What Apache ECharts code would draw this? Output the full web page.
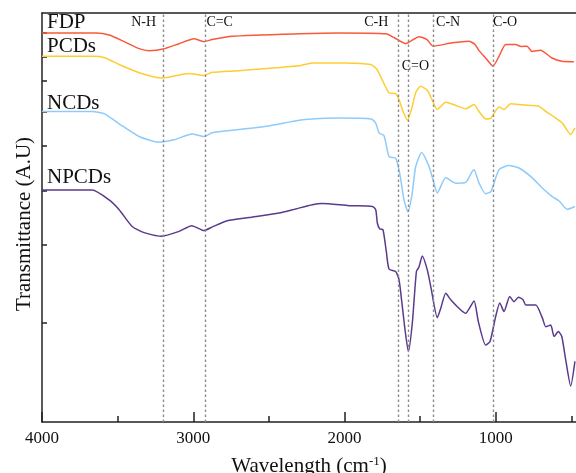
<!DOCTYPE html>
<html>
<head>
<meta charset="utf-8">
<script src="https://cdn.jsdelivr.net/npm/echarts@6/dist/echarts.min.js"></script>
<style>
html, body { margin: 0; padding: 0; background: #fff; }
#chart { width: 576px; height: 473px; }
</style>
</head>
<body>
<div id="chart"></div>
<script>
// FTIR spectra, transmittance in arbitrary units (0 = bottom of frame, 100 = top)
const seriesNames = ['FDP', 'PCDs', 'NCDs', 'NPCDs'];
const seriesColors = ['#f8593a', '#ffcc33', '#8ecbfb', '#5a3a8c'];

const fdpWave = [4000, 3642, 3556, 3457, 3358, 3292, 3199, 3094, 2995, 2929, 2876, 2744, 2301, 2036, 1726, 1673, 1596, 1508, 1455, 1415, 1290, 1178, 1138, 1111, 1065, 1019, 979, 935, 869, 833, 794, 761, 704, 629, 563, 484];
const fdpT = [95.1, 95.1, 94.6, 93.0, 91.3, 90.8, 91.2, 92.5, 93.7, 93.0, 93.5, 94.3, 94.9, 95.1, 94.9, 94.0, 92.5, 94.2, 93.5, 91.9, 92.7, 93.1, 92.3, 90.8, 88.9, 87.0, 89.4, 92.3, 92.3, 91.8, 91.9, 90.6, 90.9, 89.0, 88.2, 88.1];

const pcdWave = [4000, 3669, 3590, 3490, 3358, 3206, 3028, 2929, 2876, 2697, 2301, 2215, 1992, 1827, 1785, 1752, 1706, 1662, 1640, 1613, 1584, 1554, 1530, 1497, 1453, 1422, 1387, 1331, 1265, 1199, 1144, 1111, 1065, 1032, 979, 946, 902, 847, 761, 715, 668, 615, 563, 505, 477];
const pcdT = [89.4, 89.4, 89.1, 87.4, 85.4, 84.1, 85.2, 84.7, 85.5, 85.9, 87.1, 87.8, 87.8, 87.4, 86.2, 83.7, 80.5, 80.3, 78.8, 75.9, 73.8, 76.9, 80.5, 82.1, 81.1, 78.8, 76.4, 78.2, 77.4, 76.6, 77.6, 75.9, 74.1, 74.3, 77.0, 76.4, 77.8, 77.6, 77.4, 77.2, 75.9, 74.6, 73.2, 70.3, 71.9];

const ncdWave = [4000, 3669, 3590, 3490, 3358, 3226, 3127, 3008, 2929, 2876, 2697, 2519, 2301, 2215, 2036, 1824, 1794, 1772, 1739, 1706, 1662, 1634, 1607, 1581, 1554, 1530, 1490, 1442, 1415, 1387, 1331, 1265, 1199, 1157, 1144, 1111, 1067, 1032, 979, 913, 847, 759, 693, 627, 583, 528, 477];
const ncdT = [75.9, 75.9, 75.4, 72.9, 69.8, 68.4, 69.0, 70.4, 69.8, 70.7, 71.5, 72.3, 73.8, 74.1, 74.3, 74.1, 73.1, 70.7, 70.0, 64.9, 64.5, 60.5, 54.3, 51.4, 55.6, 62.4, 65.9, 62.5, 59.2, 56.0, 59.7, 58.4, 58.6, 61.2, 61.7, 58.4, 55.8, 56.4, 61.7, 62.7, 62.1, 59.7, 57.2, 55.1, 54.1, 52.0, 52.7];

const npcdWave = [4000, 3669, 3556, 3490, 3404, 3325, 3215, 3094, 3010, 2929, 2874, 2775, 2631, 2433, 2323, 2213, 2147, 1970, 1816, 1794, 1783, 1767, 1746, 1724, 1706, 1662, 1640, 1618, 1600, 1578, 1552, 1525, 1508, 1486, 1453, 1430, 1387, 1364, 1331, 1298, 1232, 1199, 1144, 1116, 1067, 1038, 1001, 974, 946, 908, 880, 851, 820, 802, 736, 692, 670, 637, 615, 587, 564, 538, 505, 477];
const npcdT = [56.7, 56.7, 54.3, 51.9, 47.8, 46.3, 45.4, 46.6, 48.0, 46.8, 47.7, 49.2, 50.0, 51.1, 52.1, 53.1, 53.4, 52.9, 52.7, 51.9, 48.6, 47.2, 47.0, 41.7, 37.4, 36.8, 34.8, 28.2, 22.5, 17.2, 24.2, 36.8, 37.9, 40.6, 37.2, 33.1, 25.5, 27.8, 31.5, 29.9, 27.4, 26.6, 29.6, 24.6, 18.8, 19.7, 25.8, 29.1, 27.0, 30.7, 29.4, 30.5, 29.9, 28.6, 28.6, 25.4, 23.3, 23.7, 20.9, 22.1, 20.9, 15.2, 8.8, 14.8];

// band assignments (dotted guide lines)
const bandNames = ['N-H', 'C=C', 'C-H', 'C=O', 'C-N', 'C-O'];
const bandWaves = [3200, 2920, 1645, 1578, 1415, 1018];

// axis ticks
const xMajor = [4000, 3000, 2000, 1000];
const xMinor = [3500, 2500, 1500, 500];
const yTicks = [95.1, 89.4, 83.5, 75.8, 67.6, 56.6, 43.3, 24.2];

const waves = [fdpWave, pcdWave, ncdWave, npcdWave];
const trans = [fdpT, pcdT, ncdT, npcdT];

const font = 'Liberation Serif';
const axisColor = '#222';

// layout of the text bits (not data)
const nameOffsets = [-11, -10, -8.5, -12.5];
const bandLabelY = [97.6, 97.6, 97.6, 87.0, 97.6, 97.6];
const bandLabelAlign = ['right', 'left', 'right', 'center', 'left', 'left'];
const bandLabelDx = [-7, 1, -10, 7, 3, 0];

const lineSeries = seriesNames.map((name, i) => ({
    name: name,
    type: 'line',
    data: waves[i].map((w, j) => [w, trans[i][j]]),
    showSymbol: false,
    smooth: 0.2,
    lineStyle: { color: seriesColors[i], width: 1.5 },
    itemStyle: { color: seriesColors[i] },
    z: 3,
}));

const option = {
    animation: false,
    backgroundColor: '#fff',
    grid: { left: 42, right: 0, top: 13, bottom: 51, outerBoundsMode: 'none' },
    xAxis: [
        {
            type: 'value', min: 470, max: 4000, inverse: true, position: 'bottom', offset: 0,
            axisLine: { lineStyle: { color: axisColor, width: 1.5 } },
            axisTick: { inside: true, length: 10, customValues: xMajor, lineStyle: { color: axisColor, width: 1.5 } },
            axisLabel: { customValues: xMajor, formatter: v => String(v), fontFamily: font, fontSize: 17, color: '#111', margin: 8 },
            splitLine: { show: false },
            name: 'Wavelength (cm{sup|-1})',
            nameLocation: 'middle',
            nameGap: 33,
            nameTextStyle: {
                fontFamily: font, fontSize: 21, color: '#111',
                rich: { sup: { fontFamily: font, fontSize: 13, color: '#111', verticalAlign: 'top', padding: [0, 0, 9, 0] } },
            },
        },
        {
            type: 'value', min: 470, max: 4000, inverse: true, position: 'bottom', offset: 0,
            axisLine: { show: false },
            axisTick: { inside: true, length: 6, customValues: xMinor, lineStyle: { color: axisColor, width: 1.5 } },
            axisLabel: { show: false },
            splitLine: { show: false },
        },
        {
            type: 'value', min: 470, max: 4000, inverse: true, position: 'top', offset: 0,
            axisLine: { lineStyle: { color: axisColor, width: 1.5 } },
            axisTick: { show: false },
            axisLabel: { show: false },
            splitLine: { show: false },
        },
    ],
    yAxis: {
        type: 'value', min: 0, max: 100,
        axisLine: { show: true, lineStyle: { color: axisColor, width: 1.5 } },
        axisTick: { show: true, inside: true, length: 5, customValues: yTicks, lineStyle: { color: axisColor, width: 1.5 } },
        axisLabel: { show: false },
        splitLine: { show: false },
        name: 'Transmittance (A.U)',
        nameLocation: 'middle',
        nameGap: 7,
        nameTextStyle: { fontFamily: font, fontSize: 21, color: '#111', padding: [0, 13, 0, 0] },
    },
    series: lineSeries.concat([{
        name: 'bands',
        type: 'line',
        data: [],
        silent: true,
        markLine: {
            silent: true,
            symbol: 'none',
            label: { show: false },
            lineStyle: { color: '#8c8c8c', width: 1.4, type: [2.5, 2.5] },
            data: bandWaves.map(w => ({ xAxis: w })),
        },
        z: 1,
    }]),
};

const chart = echarts.init(document.getElementById('chart'));
chart.setOption(option);

// text labels placed through the chart's own scales
const toPx = (w, v) => chart.convertToPixel({ xAxisIndex: 0, yAxisIndex: 0 }, [w, v]);
const texts = [];
seriesNames.forEach((name, i) => {
    const p = toPx(waves[i][0], trans[i][0]);
    texts.push({
        type: 'text', x: p[0] + 5, y: p[1] + nameOffsets[i], z: 10,
        style: { text: name, font: '21px "' + font + '"', fill: '#111', align: 'left', verticalAlign: 'middle' },
    });
});
bandNames.forEach((name, i) => {
    const p = toPx(bandWaves[i], bandLabelY[i]);
    texts.push({
        type: 'text', x: p[0] + bandLabelDx[i], y: p[1], z: 10,
        style: { text: name, font: '14px "' + font + '"', fill: '#111', align: bandLabelAlign[i], verticalAlign: 'middle' },
    });
});
chart.setOption({ graphic: texts });
</script>
</body>
</html>
